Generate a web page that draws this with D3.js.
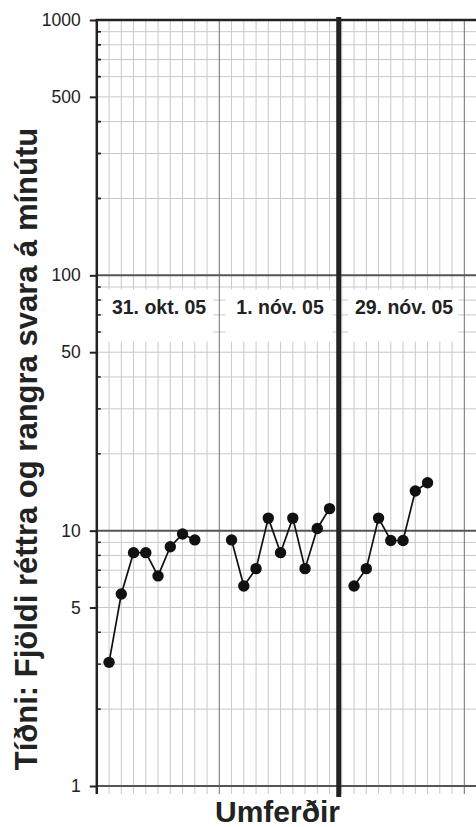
<!DOCTYPE html>
<html>
<head>
<meta charset="utf-8">
<script src="https://cdn.jsdelivr.net/npm/d3@7"></script>
<style>
  html, body { margin: 0; padding: 0; background: #fff; }
  svg { display: block; }
  text { font-family: "Liberation Sans", Arial, Helvetica, sans-serif; }
</style>
</head>
<body>
<svg id="chart" width="476" height="827"></svg>
<script>
// ---- data ----
const sessionLabels = ["31. okt. 05", "1. nóv. 05", "29. nóv. 05"];
const sessionStart = [1, 11, 21];           // first x index (umferð) of each session
const sessionBoxes = [[0.5, 9.5], [10.5, 19.25], [20.5, 29.5]];
const series1 = [3.05, 5.65, 8.2, 8.2, 6.65, 8.65, 9.7, 9.2];
const series2 = [9.2, 6.07, 7.1, 11.2, 8.2, 11.2, 7.1, 10.2, 12.2];
const series3 = [6.07, 7.1, 11.2, 9.15, 9.15, 14.3, 15.4];
const allSeries = [series1, series2, series3];
const yTickLabels = [1, 5, 10, 50, 100, 500, 1000];
const decades = [1, 10, 100, 1000];
const phaseLines = [19.75];
const darkVerticals = [10, 30];
const yTitle = "Tíðni: Fjöldi réttra og rangra svara á mínútu";
const xTitle = "Umferðir";

// ---- scales ----
const x0 = 96.8, step = 12.25, xMax = 31;
const x = d3.scaleLinear().domain([0, xMax]).range([x0, x0 + xMax * step]);
const y = d3.scaleLog().domain([1, 1000]).range([786, 20]);

const svg = d3.select("#chart");

// minor horizontal gridlines (2..9 in each decade)
const minorY = [];
for (const d of [1, 10, 100]) for (let k = 2; k <= 9; k++) minorY.push(d * k);

svg.append("g").selectAll("line").data(minorY).join("line")
  .attr("x1", x(0)).attr("x2", 476)
  .attr("y1", d => y(d)).attr("y2", d => y(d))
  .attr("stroke", "#c9c9c9").attr("stroke-width", 1);

// vertical gridlines
const vIdx = d3.range(1, xMax + 1).filter(i => !darkVerticals.includes(i));
svg.append("g").selectAll("line").data(vIdx).join("line")
  .attr("x1", d => x(d)).attr("x2", d => x(d))
  .attr("y1", y(1000)).attr("y2", 794)
  .attr("stroke", "#c9c9c9").attr("stroke-width", 1);

svg.append("g").selectAll("line").data(darkVerticals).join("line")
  .attr("x1", d => x(d)).attr("x2", d => x(d))
  .attr("y1", y(1000)).attr("y2", 794)
  .attr("stroke", "#6e6e6e").attr("stroke-width", 1);

// decade lines
svg.append("g").selectAll("line").data(decades.filter(d => d < 1000)).join("line")
  .attr("x1", x(0)).attr("x2", 476)
  .attr("y1", d => y(d)).attr("y2", d => y(d))
  .attr("stroke", "#555").attr("stroke-width", 2);

// session label boxes
svg.append("g").selectAll("rect").data(sessionBoxes).join("rect")
  .attr("x", d => x(d[0])).attr("width", d => x(d[1]) - x(d[0]))
  .attr("y", y(88)).attr("height", y(55) - y(88))
  .attr("fill", "#fff");

svg.append("g").selectAll("text").data(sessionLabels).join("text")
  .attr("x", (d, i) => (x(sessionBoxes[i][0]) + x(sessionBoxes[i][1])) / 2 + 1)
  .attr("y", 313.5)
  .attr("text-anchor", "middle")
  .attr("font-size", "19.5px").attr("font-weight", "bold")
  .attr("fill", "#222")
  .text(d => d);

// top border
svg.append("line")
  .attr("x1", x(0) - 1).attr("x2", 476)
  .attr("y1", y(1000)).attr("y2", y(1000))
  .attr("stroke", "#222").attr("stroke-width", 2.5);

// y axis
const yAxis = d3.axisLeft(y).tickValues(yTickLabels)
  .tickFormat(d3.format("d")).tickSize(7).tickPadding(9);
const gy = svg.append("g").attr("transform", `translate(${x(0)},0)`).call(yAxis);
gy.select(".domain").remove();
gy.selectAll(".tick line").attr("stroke", "#222").attr("stroke-width", 2);
gy.selectAll(".tick text").attr("font-size", "17.5px").attr("fill", "#222")
  .attr("font-family", "Liberation Sans, Arial, sans-serif");

// minor ticks (inward)
svg.append("g").selectAll("line")
  .data(minorY.concat([200, 300, 400, 600, 700, 800, 900]).filter(d => !yTickLabels.includes(d)))
  .join("line")
  .attr("x1", x(0)).attr("x2", x(0) + 4)
  .attr("y1", d => y(d)).attr("y2", d => y(d))
  .attr("stroke", "#222").attr("stroke-width", 1.5);

// axis line
svg.append("line")
  .attr("x1", x(0)).attr("x2", x(0))
  .attr("y1", y(1000) - 1).attr("y2", 794)
  .attr("stroke", "#222").attr("stroke-width", 2.5);

// phase change line
svg.append("g").selectAll("line").data(phaseLines).join("line")
  .attr("x1", d => x(d)).attr("x2", d => x(d))
  .attr("y1", 17).attr("y2", 797)
  .attr("stroke", "#222").attr("stroke-width", 5);

// data
const line = d3.line().x(d => x(d.i)).y(d => y(d.v));
allSeries.forEach((s, si) => {
  const pts = s.map((v, k) => ({ i: sessionStart[si] + k, v }));
  svg.append("path").datum(pts)
    .attr("d", line).attr("fill", "none")
    .attr("stroke", "#111").attr("stroke-width", 1.7);
  svg.append("g").selectAll("circle").data(pts).join("circle")
    .attr("cx", d => x(d.i)).attr("cy", d => y(d.v)).attr("r", 5.7)
    .attr("fill", "#111");
});

// titles
svg.append("text")
  .attr("transform", "translate(37,449) rotate(-90)")
  .attr("text-anchor", "middle")
  .attr("font-size", "31px").attr("font-weight", "bold").attr("fill", "#222")
  .text(yTitle);

svg.append("text")
  .attr("x", 277.5).attr("y", 822)
  .attr("text-anchor", "middle")
  .attr("font-size", "30px").attr("font-weight", "bold").attr("fill", "#222")
  .text(xTitle);
</script>
</body>
</html>
